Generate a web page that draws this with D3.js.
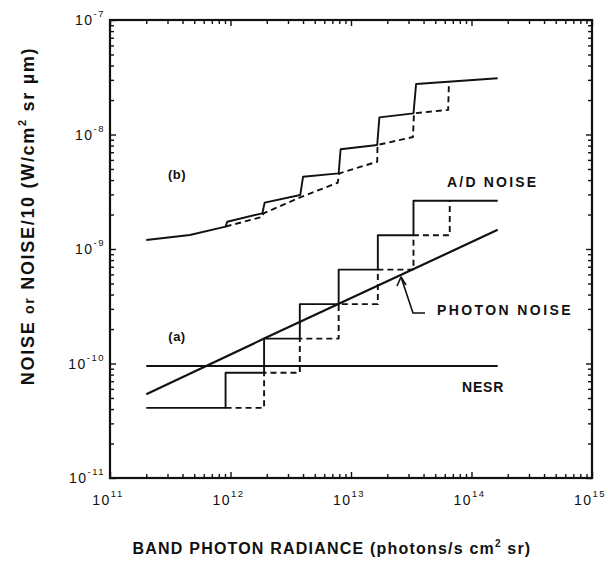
<!DOCTYPE html>
<html>
<head>
<meta charset="utf-8">
<script src="https://cdn.jsdelivr.net/npm/d3@7"></script>
<style>
  body { margin: 0; background: #fff; }
  svg text { font-family: "Liberation Sans", Arial, sans-serif; fill: #111; }
</style>
</head>
<body>
<div id="container"></div>
<script>
// data
const xDecades = [11, 12, 13, 14, 15];
const yDecades = [-11, -10, -9, -8, -7];

// (a) quantisation noise, solid and dashed step curves
const aSolidX = [2.0e11, 9.1e11, 1.9e12, 3.76e12, 7.9e12, 1.67e13, 3.3e13, 1.65e14];
const aSolidY = [4.1e-11, 8.3e-11, 1.65e-10, 3.3e-10, 6.6e-10, 1.32e-9, 2.64e-9, 2.64e-9];
const aDashX = [9.1e11, 1.9e12, 3.76e12, 7.9e12, 1.67e13, 3.3e13, 6.6e13];
const aDashY = [4.1e-11, 8.3e-11, 1.65e-10, 3.3e-10, 6.6e-10, 1.32e-9, 2.64e-9];

// (b) A/D noise total, solid and dashed
const bSolidX = [2.0e11, 4.6e11, 9.1e11, 9.4e11, 1.84e12, 1.92e12, 3.79e12, 4.0e12, 7.9e12, 8.2e12, 1.65e13, 1.72e13, 3.3e13, 3.47e13, 1.65e14];
const bSolidY = [1.2e-9, 1.325e-9, 1.57e-9, 1.73e-9, 2.05e-9, 2.54e-9, 2.96e-9, 4.27e-9, 4.58e-9, 7.43e-9, 8.1e-9, 1.41e-8, 1.53e-8, 2.76e-8, 3.1e-8];
const bDashX = [9.1e11, 1.84e12, 1.88e12, 3.83e12, 7.75e12, 8.0e12, 1.65e13, 1.66e13, 3.27e13, 3.33e13, 6.4e13, 6.5e13];
const bDashY = [1.57e-9, 1.91e-9, 2.05e-9, 2.84e-9, 3.79e-9, 4.58e-9, 5.78e-9, 8.1e-9, 9.5e-9, 1.53e-8, 1.64e-8, 2.88e-8];

// photon noise and NESR
const photonX = [2.0e11, 1.9e12, 1.65e14];
const photonY = [5.4e-11, 1.65e-10, 1.47e-9];
const nesrX = [2.0e11, 1.65e14];
const nesrY = [9.5e-11, 9.5e-11];

const width = 608, height = 562;
const margin = { top: 20, right: 16, bottom: 84, left: 110 };

const svg = d3.select('#container')
  .append('svg')
  .attr('width', width)
  .attr('height', height);

// scales
const x = d3.scaleLog()
  .domain([1e11, 1e15])
  .range([margin.left, width - margin.right]);

const y = d3.scaleLog()
  .domain([1e-11, 1e-7])
  .range([height - margin.bottom, margin.top]);

const x0 = x.range()[0], x1 = x.range()[1];
const y0 = y.range()[0], y1 = y.range()[1];

// minor / major tick values
const minor = decs => decs.slice(0, -1).flatMap(d => d3.range(2, 10).map(k => k * Math.pow(10, d)));
const xMajor = xDecades.map(d => Math.pow(10, d));
const yMajor = yDecades.map(d => Math.pow(10, d));
const xMinor = minor(xDecades);
const yMinor = minor(yDecades);

const tickG = svg.append('g').attr('class', 'ticks');

function drawAxis(axisFn, scale, values, size, transform) {
  tickG.append('g')
    .attr('transform', transform)
    .call(axisFn(scale).tickValues(values).tickSize(size).tickFormat(''))
    .call(g => g.select('.domain').remove())
    .call(g => g.selectAll('line').attr('stroke', '#111').attr('stroke-width', 1.4));
}

// inward ticks on all four sides
drawAxis(d3.axisBottom, x, xMajor, -6, `translate(0,${y0})`);
drawAxis(d3.axisBottom, x, xMinor, -4, `translate(0,${y0})`);
drawAxis(d3.axisTop, x, xMajor, -6, `translate(0,${y1})`);
drawAxis(d3.axisTop, x, xMinor, -4, `translate(0,${y1})`);
drawAxis(d3.axisLeft, y, yMajor, -6, `translate(${x0},0)`);
drawAxis(d3.axisLeft, y, yMinor, -4, `translate(${x0},0)`);
drawAxis(d3.axisRight, y, yMajor, -6, `translate(${x1},0)`);
drawAxis(d3.axisRight, y, yMinor, -4, `translate(${x1},0)`);

// frame
svg.append('rect')
  .attr('x', x0).attr('y', y1)
  .attr('width', x1 - x0).attr('height', y0 - y1)
  .attr('fill', 'none')
  .attr('stroke', '#111')
  .attr('stroke-width', 2.2);

// tick labels
svg.append('g').selectAll('text')
  .data(xDecades)
  .join('text')
  .attr('x', d => x(Math.pow(10, d)) - 2)
  .attr('y', y0 + 27)
  .attr('text-anchor', 'middle')
  .style('font-size', '14px')
  .style('letter-spacing', '1.5px')
  .each(function(d) {
    const t = d3.select(this);
    t.append('tspan').text('10');
    t.append('tspan').attr('dy', -8).style('font-size', '9.5px').text(d);
  });

svg.append('g').selectAll('text')
  .data(yDecades)
  .join('text')
  .attr('x', x0 - 5)
  .attr('y', d => y(Math.pow(10, d)) + 5)
  .attr('text-anchor', 'end')
  .style('font-size', '14px')
  .style('letter-spacing', '1.5px')
  .each(function(d) {
    const t = d3.select(this);
    t.append('tspan').text('10');
    t.append('tspan').attr('dy', -8).style('font-size', '9.5px').text(d);
  });

// lines
const line = d3.line().x(d => x(d[0])).y(d => y(d[1]));
const stepLine = d3.line().x(d => x(d[0])).y(d => y(d[1])).curve(d3.curveStepAfter);
const zip = (a, b) => a.map((v, i) => [v, b[i]]);

const plot = svg.append('g')
  .attr('fill', 'none')
  .attr('stroke', '#111')
  .attr('stroke-width', 1.9)
  .attr('stroke-linejoin', 'round');

plot.append('path').attr('d', line(zip(nesrX, nesrY)));
plot.append('path').attr('d', line(zip(photonX, photonY))).attr('stroke-width', 2.2);
plot.append('path').attr('d', stepLine(zip(aSolidX, aSolidY)));
plot.append('path').attr('d', stepLine(zip(aDashX, aDashY))).attr('stroke-dasharray', '6,4');
plot.append('path').attr('d', line(zip(bSolidX, bSolidY)));
plot.append('path').attr('d', line(zip(bDashX, bDashY))).attr('stroke-dasharray', '6,4');

// photon noise arrow
const arrow = [[425, 313], [413, 313], [401, 277]];
plot.append('path')
  .attr('d', d3.line()(arrow))
  .attr('stroke-width', 1.6);
plot.append('path')
  .attr('d', d3.line()([[397, 286], [401, 277], [406, 285]]))
  .attr('stroke-width', 1.6);

// annotations
const notes = [
  { text: '(b)', x: 177, y: 179, size: 13, ls: 0.5 },
  { text: '(a)', x: 177, y: 341, size: 13, ls: 0.5 },
  { text: 'A/D NOISE', x: 447, y: 187, size: 14, ls: 2.2 },
  { text: 'PHOTON NOISE', x: 437, y: 315, size: 14, ls: 2.4 },
  { text: 'NESR', x: 462, y: 392, size: 14, ls: 0.8 }
];
svg.append('g').selectAll('text')
  .data(notes)
  .join('text')
  .attr('x', d => d.x)
  .attr('y', d => d.y)
  .attr('text-anchor', d => d.text.length < 4 ? 'middle' : 'start')
  .style('font-size', d => d.size + 'px')
  .style('font-weight', 'bold')
  .style('letter-spacing', d => d.ls + 'px')
  .text(d => d.text);

// axis titles
const xTitle = svg.append('text')
  .attr('x', 332)
  .attr('y', 554)
  .attr('text-anchor', 'middle')
  .style('font-size', '16px')
  .style('font-weight', 'bold')
  .style('letter-spacing', '1.2px');
xTitle.append('tspan').text('BAND PHOTON RADIANCE (photons/s cm');
xTitle.append('tspan').attr('dy', -7).style('font-size', '10px').text('2');
xTitle.append('tspan').attr('dy', 7).text(' sr)');

const yTitle = svg.append('text')
  .attr('transform', 'translate(34,216) rotate(-90)')
  .attr('text-anchor', 'middle')
  .style('font-size', '18px')
  .style('font-weight', 'bold')
  .style('letter-spacing', '1.7px');
yTitle.append('tspan').text('NOISE ');
yTitle.append('tspan').style('font-size', '14px').text('or');
yTitle.append('tspan').text(' NOISE/10 (W/cm');
yTitle.append('tspan').attr('dy', -8).style('font-size', '11px').text('2');
yTitle.append('tspan').attr('dy', 8).text(' sr \u00b5m)');
</script>
</body>
</html>
